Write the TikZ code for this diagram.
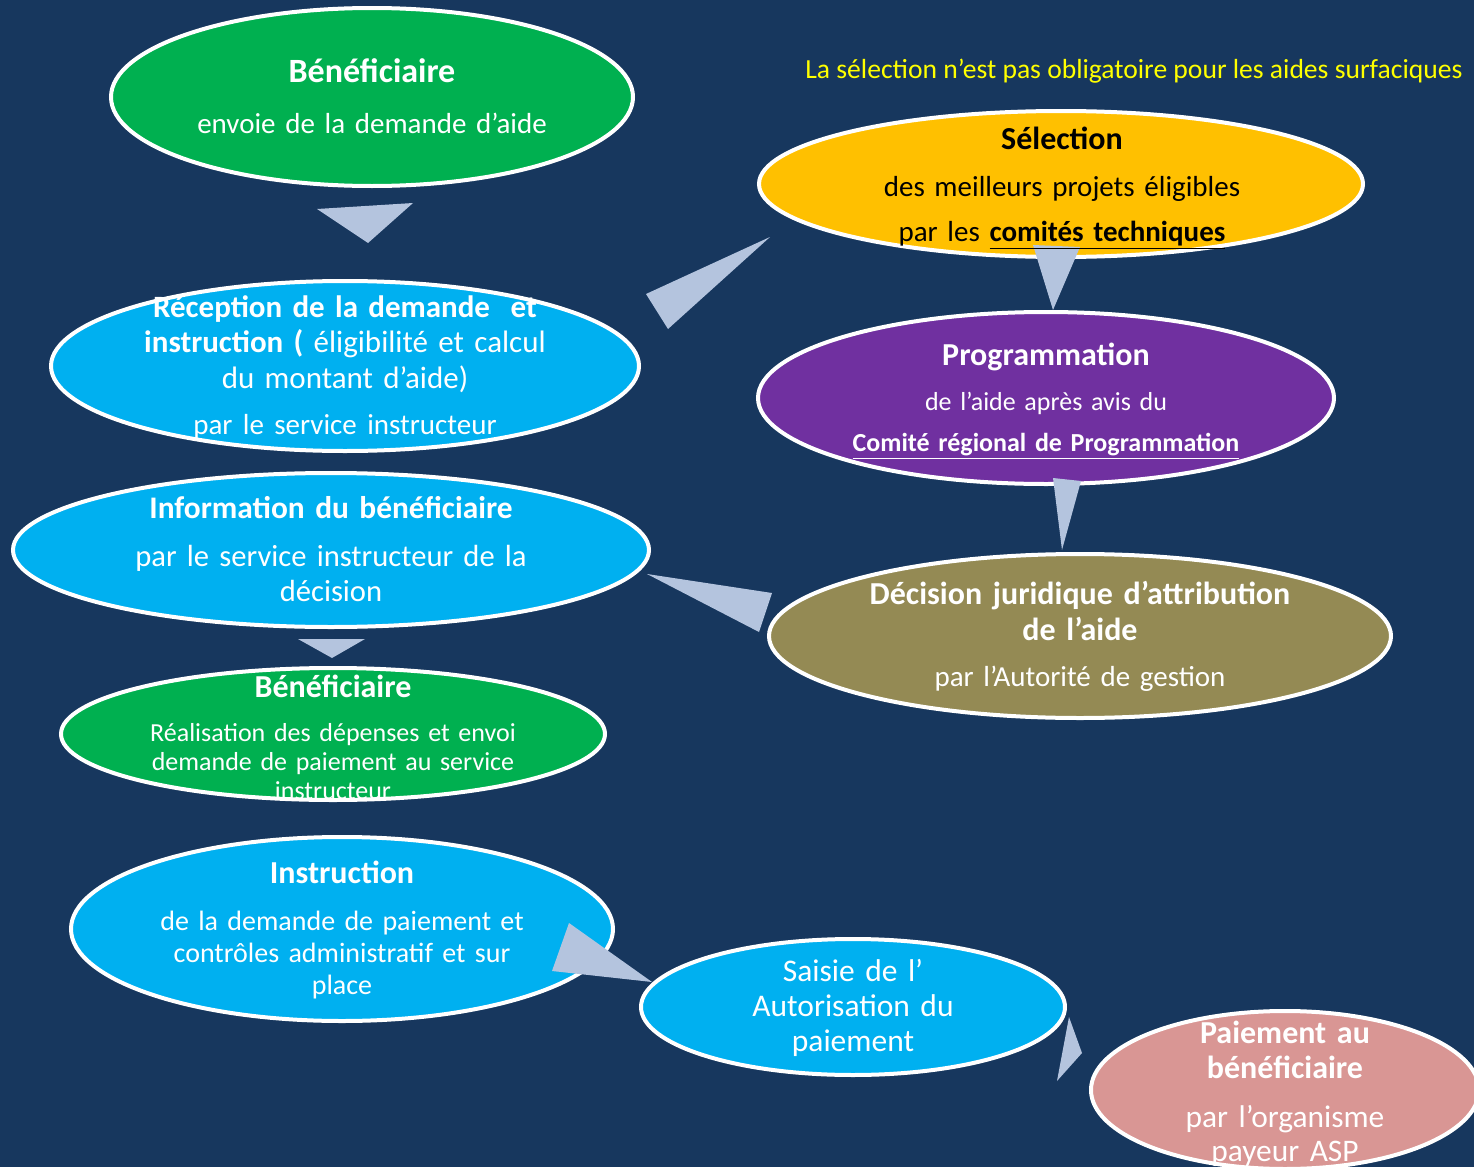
\documentclass[tikz,border=0pt]{standalone}
\usepackage{fontspec}
\setmainfont{Carlito}
\usetikzlibrary{shapes.geometric}

\definecolor{bgblue}{HTML}{17375E}
\definecolor{cgreen}{HTML}{00B050}
\definecolor{ccyan}{HTML}{00B0F0}
\definecolor{cyellow}{HTML}{FFC000}
\definecolor{cpurple}{HTML}{7030A0}
\definecolor{colive}{HTML}{948A54}
\definecolor{cpink}{HTML}{D99694}
\definecolor{arrowgrey}{HTML}{B4C4DE}
\definecolor{notetext}{HTML}{FFFF00}

\begin{document}
\begin{tikzpicture}[
x=0.5pt, y=-0.5pt,
bubble/.style={
  draw=white,
  line width=2pt,
  ellipse,
  inner sep=0pt
  },
title/.style={
  text=white,
  font=\fontsize{16}{18}\selectfont\bfseries,
  text width=330pt,
  align=center,
  anchor=base
  },
body/.style={
  text=white,
  font=\fontsize{14.5}{17.75}\selectfont,
  text width=330pt,
  align=center,
  anchor=base
  },
arrowtri/.style={fill=arrowgrey}
]
\useasboundingbox (0,0) rectangle (1474,1167);
\fill[bgblue] (0,0) rectangle (1474,1167);

% ellipses
\node[bubble, fill=cgreen, minimum width=261pt, minimum height=89pt] (benA) at (372,97) {};
\node[bubble, fill=cyellow, minimum width=302pt, minimum height=73pt] (sel) at (1061,184) {};
\node[bubble, fill=ccyan, minimum width=294pt, minimum height=85pt] (rec) at (345,366) {};
\node[bubble, fill=cpurple, minimum width=288pt, minimum height=86pt] (prog) at (1046,398) {};
\node[bubble, fill=ccyan, minimum width=318pt, minimum height=77pt] (info) at (331,550) {};
\node[bubble, fill=colive, minimum width=311pt, minimum height=82pt] (dec) at (1080,636) {};
\node[bubble, fill=cgreen, minimum width=272pt, minimum height=66pt] (benB) at (333,734) {};
\node[bubble, fill=ccyan, minimum width=271pt, minimum height=92pt] (instr) at (342,929) {};
\node[bubble, fill=ccyan, minimum width=212pt, minimum height=68pt] (saisie) at (853,1007) {};
\node[bubble, fill=cpink, minimum width=194pt, minimum height=79pt] (paie) at (1285,1090) {};

% arrows
\foreach \a/\b/\c in {
  {317,209}/{413,203}/{368,243},
  {646,294}/{770,237}/{668,329},
  {1033,245}/{1080,247}/{1053,310},
  {1053,478}/{1081,481}/{1062,550},
  {647,574}/{772,593}/{759,632},
  {298,639}/{365,639}/{332,658},
  {569,923}/{552,971}/{652,982},
  {1069,1017}/{1082,1053}/{1057,1081}}
  \fill[arrowtri] (\a) -- (\b) -- (\c) -- cycle;

% texts
\node[anchor=base west, inner sep=0pt, text=notetext, font=\fontsize{13.8}{17}\selectfont] (note) at (805,78)
  {La sélection n’est pas obligatoire pour les aides surfaciques};

\node[title, font=\fontsize{17}{20}\selectfont\bfseries] (benA title) at (372,83) {Bénéficiaire};
\node[body] (benA body) at (372,133) {envoie de la demande d’aide};

\node[title, text=black] (sel title) at (1062,149) {Sélection};
\node[body, text=black] (sel body) at (1062,196)
  {des meilleurs projets éligibles\\[4.75pt] par les \underline{\textbf{comités techniques}}};

\node[body, font=\fontsize{15.5}{17.75}\selectfont] (rec body) at (345,317)
  {\textbf{Réception de la demande\ \ et}\\ \textbf{instruction (} éligibilité et calcul\\ du montant d’aide)\\[5.25pt]
   {\fontsize{14.5}{17.75}\selectfont par le service instructeur}};

\node[title] (prog title) at (1046,365) {Programmation};
\node[body, font=\fontsize{13}{15.5}\selectfont] (prog body) at (1046,410)
  {de l’aide après avis du\\[5pt] \underline{\textbf{Comité régional de Programmation}}};

\node[title, font=\fontsize{15.7}{18}\selectfont\bfseries] (info title) at (331,518) {Information du bénéficiaire};
\node[body, font=\fontsize{15.3}{17.5}\selectfont] (info body) at (331,566) {par le service instructeur de la\\ décision};

\node[title] (dec title) at (1080,604) {Décision juridique d’attribution\\ de l’aide};
\node[body] (dec body) at (1080,686) {par l’Autorité de gestion};

\node[title] (benB title) at (333,697) {Bénéficiaire};
\node[body, font=\fontsize{13}{14.5}\selectfont] (benB body) at (333,741)
  {Réalisation des dépenses et envoi\\ demande de paiement au service\\ instructeur};

\node[title] (instr title) at (342,883) {Instruction};
\node[body, font=\fontsize{14}{16}\selectfont] (instr body) at (342,930)
  {de la demande de paiement et\\ contrôles administratif et sur\\ place};

\node[body, font=\fontsize{15.75}{17.5}\selectfont] (saisie body) at (853,981) {Saisie de l’\\ Autorisation du\\ paiement};

\node[title, font=\fontsize{16}{17.5}\selectfont\bfseries] (paie title) at (1285,1043) {Paiement au\\ bénéficiaire};
\node[body, font=\fontsize{15.7}{17}\selectfont] (paie body) at (1285,1127) {par l’organisme\\ payeur ASP};
\end{tikzpicture}
\end{document}
